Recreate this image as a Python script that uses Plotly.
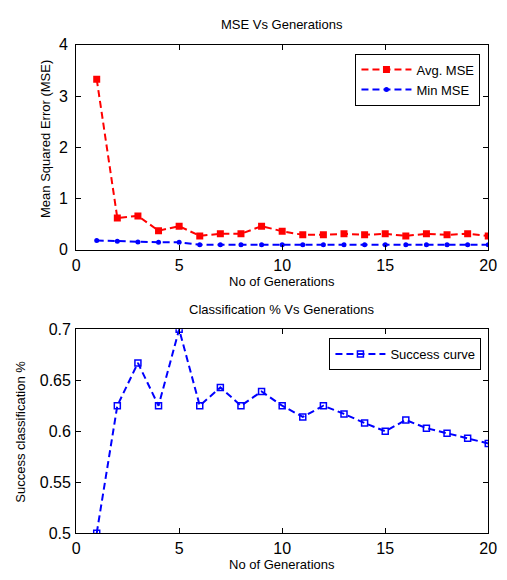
import plotly.graph_objects as go

generations = list(range(1, 21))
avg_mse = [3.33, 0.62, 0.66, 0.37, 0.46, 0.27, 0.31, 0.31, 0.46, 0.36,
           0.29, 0.29, 0.31, 0.29, 0.31, 0.27, 0.31, 0.29, 0.31, 0.27]
min_mse = [0.18, 0.165, 0.15, 0.145, 0.145, 0.095, 0.095, 0.095, 0.095, 0.095,
           0.095, 0.095, 0.095, 0.095, 0.095, 0.095, 0.095, 0.095, 0.095, 0.095]
success = [0.500, 0.625, 0.667, 0.625, 0.700, 0.625, 0.643, 0.625, 0.639, 0.625,
           0.614, 0.625, 0.617, 0.608, 0.600, 0.611, 0.603, 0.598, 0.593, 0.588]

W, H = 507, 580
FONT = "Liberation Sans, Arial, Helvetica, sans-serif"
RED = "#FF0000"
BLUE = "#0000FF"
DASH = "7px,4px"

def px_x(p):
    return p / W

def px_y(p):
    return 1 - p / H

fig = go.Figure()

fig.add_trace(go.Scatter(x=generations, y=avg_mse, name="Avg. MSE", mode="lines+markers",
                         line=dict(color=RED, width=2, dash=DASH),
                         marker=dict(symbol="square", size=7, color=RED),
                         xaxis="x", yaxis="y", legend="legend"))
fig.add_trace(go.Scatter(x=generations, y=min_mse, name="Min MSE", mode="lines+markers",
                         line=dict(color=BLUE, width=2, dash=DASH),
                         marker=dict(symbol="circle", size=5, color=BLUE),
                         xaxis="x", yaxis="y", legend="legend"))
fig.add_trace(go.Scatter(x=generations, y=success, name="Success curve", mode="lines+markers",
                         line=dict(color=BLUE, width=2, dash=DASH),
                         marker=dict(symbol="square-open", size=6, color=BLUE, line=dict(width=1.5, color=BLUE)),
                         xaxis="x2", yaxis="y2", legend="legend2"))

axis_common = dict(showline=True, linecolor="black", linewidth=1, mirror="allticks",
                   ticks="inside", ticklen=5, tickcolor="black", showgrid=False, zeroline=False,
                   tickfont=dict(family=FONT, size=16, color="black"))

xdom = [px_x(74), px_x(497)]
fig.update_layout(
    width=W, height=H, autosize=False,
    margin=dict(l=0, r=0, t=0, b=0),
    paper_bgcolor="white", plot_bgcolor="white",
    font=dict(family=FONT, color="black"),
    xaxis=dict(domain=xdom, range=[0, 20], tickvals=[0, 5, 10, 15, 20], anchor="y",
               ticklabelstandoff=1, **axis_common),
    yaxis=dict(domain=[px_y(249), px_y(38)], range=[0, 4], tickvals=[0, 1, 2, 3, 4], anchor="x",
               ticklabelstandoff=4, **axis_common),
    xaxis2=dict(domain=xdom, range=[0, 20], tickvals=[0, 5, 10, 15, 20], anchor="y2",
                ticklabelstandoff=1, **axis_common),
    yaxis2=dict(domain=[px_y(541), px_y(331)], range=[0.5, 0.7],
                tickvals=[0.5, 0.55, 0.6, 0.65, 0.7], ticktext=["0.5", "0.55", "0.6", "0.65", "0.7"],
                anchor="x2", ticklabelstandoff=1, **axis_common),
    legend=dict(x=px_x(489), y=px_y(47), xanchor="right", yanchor="top",
                bordercolor="black", borderwidth=1, bgcolor="white", itemwidth=50,
                font=dict(family=FONT, size=13, color="black"), tracegroupgap=0),
    legend2=dict(x=px_x(490), y=px_y(340), xanchor="right", yanchor="top",
                 bordercolor="black", borderwidth=1, bgcolor="white", itemwidth=50,
                 font=dict(family=FONT, size=13, color="black")),
    showlegend=True,
)

ann = [
    ("MSE Vs Generations", px_x(285), px_y(17), 0),
    ("No of Generations", px_x(285), px_y(282), 0),
    ("Mean Squared Error (MSE)", px_x(42), px_y(135), -90),
    ("Classification % Vs Generations", px_x(285), px_y(311), 0),
    ("No of Generations", px_x(285), px_y(573), 0),
    ("Success classification %", px_x(17), px_y(437), -90),
]
for text, x, y, ang in ann:
    fig.add_annotation(text=text, x=x, y=y, xref="paper", yref="paper",
                       xanchor="center", yanchor="middle", showarrow=False, textangle=ang,
                       font=dict(family=FONT, size=13, color="black"))

fig.write_html("out.html", config={"displayModeBar": False, "responsive": False},
               post_script="document.body.style.margin='0';document.body.style.overflow='hidden';")
